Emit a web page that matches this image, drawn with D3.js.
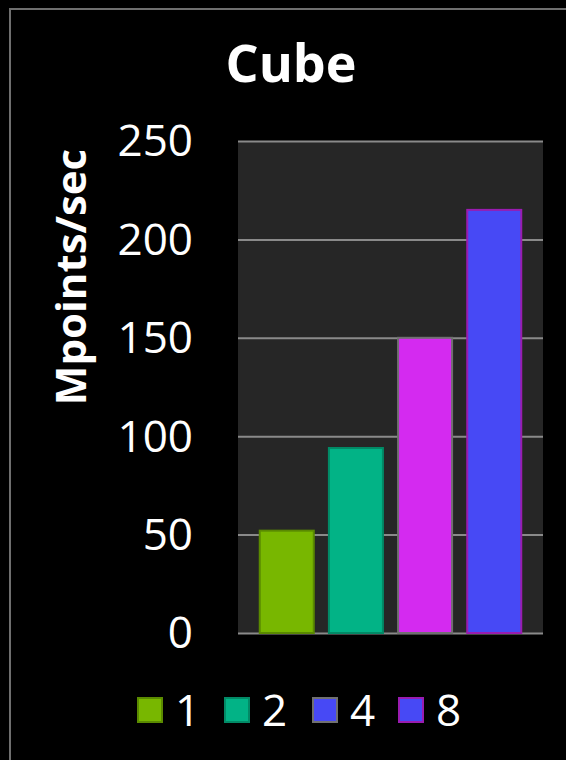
<!DOCTYPE html>
<html>
<head>
<meta charset="utf-8">
<script src="https://cdn.jsdelivr.net/npm/d3@7"></script>
<style>
  html, body { margin: 0; padding: 0; background: #000; }
  svg { display: block; }
</style>
</head>
<body>
<svg id="chart" width="566" height="760"></svg>
<script>
// Throughput of the "Cube" benchmark per thread count
const categories = ["1", "2", "4", "8"];
const values = [52, 94, 150, 215];
const barFills = ["#78b700", "#02b386", "#d42af0", "#4749f5"];
const barStrokes = ["#5a8a00", "#028a66", "#707070", "#9a1cb0"];
const legendFills = ["#78b700", "#02b386", "#4749f5", "#4749f5"];
const legendStrokes = ["#5a8a00", "#028a66", "#707070", "#9a1cb0"];
const yTicks = [0, 50, 100, 150, 200, 250];
const chartTitle = "Cube";
const yTitle = "Mpoints/sec";

const svg = d3.select("#chart");
const font = "'Open Sans', 'DejaVu Sans', sans-serif";

// frame
svg.append("rect")
  .attr("x", 10).attr("y", 9).attr("width", 620).attr("height", 820)
  .attr("fill", "#000").attr("stroke", "#6f6f6f").attr("stroke-width", 2);

const plot = { left: 238, right: 543, top: 141, bottom: 633 };

const x = d3.scaleBand()
  .domain(categories)
  .range([plot.left, plot.right])
  .paddingInner(0.19)
  .paddingOuter(0.3);

const y = d3.scaleLinear()
  .domain([0, 250])
  .range([plot.bottom, plot.top]);

// plot background
svg.append("rect")
  .attr("x", plot.left).attr("y", plot.top)
  .attr("width", plot.right - plot.left).attr("height", plot.bottom - plot.top)
  .attr("fill", "#262626");

// gridlines and tick labels
const yAxis = d3.axisLeft(y)
  .tickValues(yTicks)
  .tickSize(-(plot.right - plot.left))
  .tickPadding(45)
  .tickFormat(d3.format("d"));

const gAxis = svg.append("g")
  .attr("transform", `translate(${plot.left},0)`)
  .call(yAxis);
gAxis.select(".domain").remove();
gAxis.selectAll(".tick line")
  .attr("stroke", "#8a8a8a").attr("stroke-width", 2);
gAxis.selectAll(".tick text")
  .attr("fill", "#fff")
  .attr("font-family", font)
  .attr("font-size", 44)
  .attr("dy", "0.34em");

// bars
svg.append("g").selectAll("rect")
  .data(values)
  .join("rect")
  .attr("x", (d, i) => x(categories[i]) + 1)
  .attr("y", d => y(d))
  .attr("width", x.bandwidth() - 2)
  .attr("height", d => y(0) - y(d))
  .attr("fill", (d, i) => barFills[i])
  .attr("stroke", (d, i) => barStrokes[i])
  .attr("stroke-width", 2);

// title
svg.append("text")
  .attr("x", 291).attr("y", 82)
  .attr("text-anchor", "middle")
  .attr("fill", "#fff")
  .attr("font-family", font)
  .attr("font-weight", "bold")
  .attr("font-size", 52)
  .text(chartTitle);

// y axis title
svg.append("text")
  .attr("transform", "translate(86,277) rotate(-90)")
  .attr("text-anchor", "middle")
  .attr("fill", "#fff")
  .attr("font-family", font)
  .attr("font-weight", "bold")
  .attr("font-size", 42)
  .text(yTitle);

// legend
const legendX = [137, 224, 312, 398];
const legend = svg.append("g").selectAll("g")
  .data(categories)
  .join("g")
  .attr("transform", (d, i) => `translate(${legendX[i]},697)`);
legend.append("rect")
  .attr("x", 1).attr("y", 1)
  .attr("width", 24).attr("height", 24)
  .attr("fill", (d, i) => legendFills[i])
  .attr("stroke", (d, i) => legendStrokes[i])
  .attr("stroke-width", 2);
legend.append("text")
  .attr("x", 38).attr("y", 29)
  .attr("fill", "#fff")
  .attr("font-family", font)
  .attr("font-size", 44)
  .text(d => d);
</script>
</body>
</html>
